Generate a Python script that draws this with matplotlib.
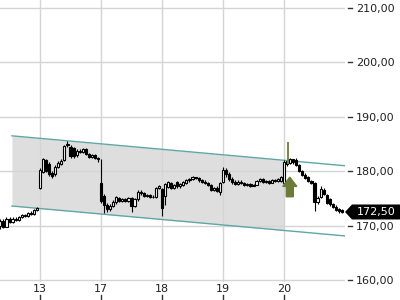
import matplotlib
matplotlib.use("Agg")
import matplotlib.pyplot as plt
import matplotlib.transforms as mtransforms
from matplotlib.patches import Rectangle, Polygon, FancyArrow
import numpy as np

# ---- data ----
opens = [170.0, 170.9, 169.8, 171.2, 170.6, 171.3, 171.0, 171.6, 171.9, 171.7, 172.3, 172.1, 172.8,
         177.0, 179.9, 182.1, 181.3, 179.6, 179.4, 180.7, 181.4, 182.0, 184.8, 184.5, 184.2, 182.9,
         183.8, 183.6, 184.0, 183.1, 182.6, 183.0, 182.5,
         177.8, 175.5, 173.8, 173.0, 173.6, 174.3, 175.1, 174.5, 174.9, 174.6, 175.0, 173.6, 174.8,
         176.2, 175.9, 175.4, 175.6, 175.2, 175.3, 176.9,
         176.8, 175.5, 177.1, 177.9, 177.0, 178.0, 177.2, 177.5, 177.9, 178.3, 178.6, 178.9, 178.7,
         178.4, 178.1, 177.9, 177.4, 176.6, 177.0, 176.2,
         178.0, 180.2, 179.4, 178.6, 178.0, 177.7, 178.1, 177.8, 177.5, 177.7, 177.3, 177.5, 178.2,
         178.6, 178.0, 178.2, 177.9, 178.4, 178.2, 178.2,
         177.9, 181.8, 181.5, 182.2, 182.1, 181.1, 180.1, 179.3, 178.9, 178.2, 177.9, 174.4, 175.2,
         176.6, 175.6, 174.8, 174.0, 173.5, 173.0, 172.8]
closes = [170.9, 169.8, 171.2, 170.6, 171.3, 171.0, 171.6, 171.9, 171.7, 172.3, 172.1, 172.8, 173.2,
          180.2, 182.2, 180.0, 179.4, 179.2, 180.8, 181.5, 181.9, 184.6, 185.0, 182.8, 182.8, 183.8,
          183.6, 184.0, 183.1, 182.6, 183.0, 182.5, 182.2,
          174.5, 173.8, 173.0, 173.6, 174.3, 175.2, 174.5, 174.9, 174.6, 175.0, 173.6, 174.8, 176.2,
          175.9, 175.4, 175.6, 175.2, 175.3, 176.9, 177.2,
          173.3, 177.6, 178.0, 176.9, 177.5, 177.2, 177.6, 178.0, 178.3, 178.6, 178.9, 178.7, 178.3,
          178.1, 177.9, 177.4, 176.6, 176.9, 176.3, 177.9,
          180.3, 179.4, 178.6, 178.0, 177.7, 178.1, 177.8, 177.5, 177.7, 177.3, 177.5, 178.2, 178.6,
          178.0, 178.2, 177.9, 178.4, 178.2, 178.5, 179.0,
          181.6, 181.3, 182.2, 181.6, 181.1, 180.1, 179.3, 178.8, 178.2, 177.8, 174.4, 175.1, 176.7,
          175.8, 174.2, 173.9, 173.4, 172.9, 172.7, 172.5]
highs = [171.2, 171.3, 171.5, 171.6, 171.6, 171.5, 171.8, 172.1, 172.1, 172.5, 172.6, 173.0, 173.5,
         180.6, 182.4, 182.3, 181.6, 180.0, 181.1, 181.8, 182.2, 184.8, 185.6, 184.8, 184.4, 184.0,
         184.0, 184.2, 184.2, 183.3, 183.2, 183.2, 182.7,
         182.2, 175.8, 174.2, 173.9, 174.7, 175.4, 175.3, 175.1, 175.1, 175.2, 175.2, 175.0, 176.5,
         176.6, 176.1, 175.8, 175.8, 175.7, 177.1, 177.5,
         177.0, 177.9, 178.2, 178.1, 177.7, 178.2, 177.8, 178.2, 178.5, 178.8, 179.1, 179.0, 178.9,
         178.6, 178.3, 178.1, 177.6, 177.1, 177.2, 178.1,
         180.7, 180.5, 179.8, 178.9, 178.3, 178.3, 178.3, 178.0, 177.8, 177.9, 177.7, 178.4, 178.8,
         178.8, 178.4, 178.4, 178.6, 178.6, 178.7, 179.2,
         182.0, 182.0, 182.4, 182.3, 182.5, 181.3, 180.3, 179.7, 179.1, 178.4, 178.1, 175.4, 177.3,
         176.9, 175.8, 175.0, 174.2, 173.7, 173.2, 173.0]
lows = [169.4, 169.5, 169.7, 170.4, 170.5, 170.8, 170.9, 171.4, 171.5, 171.6, 171.9, 172.0, 172.6,
        176.8, 179.7, 179.8, 179.2, 178.8, 179.2, 180.5, 181.2, 181.8, 184.5, 182.5, 182.5, 182.7,
        183.4, 183.4, 182.9, 182.4, 182.4, 182.3, 181.6,
        174.2, 172.4, 172.5, 172.7, 173.4, 174.0, 174.3, 174.3, 174.4, 174.4, 172.5, 173.4, 174.6,
        175.7, 175.2, 175.2, 175.0, 175.0, 175.1, 176.7,
        171.7, 173.8, 176.9, 176.7, 176.8, 177.0, 177.0, 177.3, 177.7, 178.1, 178.4, 178.5, 178.1,
        177.9, 177.7, 177.2, 176.4, 176.4, 176.1, 175.6,
        177.8, 178.9, 178.2, 177.6, 177.5, 177.5, 177.6, 177.3, 177.3, 177.1, 177.2, 177.4, 178.0,
        177.8, 177.8, 177.7, 177.8, 178.0, 178.0, 178.0,
        177.6, 180.9, 181.3, 181.4, 180.9, 179.9, 179.1, 178.6, 178.0, 177.6, 172.7, 173.9, 175.0,
        175.6, 174.0, 173.6, 173.2, 172.6, 172.4, 172.3]

day_ticks = [13, 33, 53, 73, 93]
day_labels = ["13", "17", "18", "19", "20"]
y_ticks = [160, 170, 180, 190, 200, 210]
y_labels = ["160,00", "170,00", "180,00", "190,00", "200,00", "210,00"]

channel_x = [3.8, 113.0]
channel_upper = [186.5, 181.0]
channel_lower = [173.6, 168.1]
shade_end = 93

signal_x = 94.9
signal_base = 175.3
signal_tip = 178.9
spike_x = 94.3
spike_low = 181.5
spike_high = 185.2

last_price = 172.5
last_label = "172,50"

# ---- figure ----
fig = plt.figure(figsize=(4, 3), dpi=100)
ax = fig.add_axes([0.0, 0.06, 345 / 400, 0.94])
ax.set_xlim(-0.115, 113.0)
ax.set_ylim(159.63, 211.47)
for s in ax.spines.values():
    s.set_visible(False)

grid_c = "#d4d4d4"
for t in y_ticks:
    ax.axhline(t, color=grid_c, lw=1, zorder=1)
for t in day_ticks:
    ax.axvline(t, color=grid_c, lw=1, zorder=1)

# channel shading and lines
xs = np.array([channel_x[0], shade_end])
up = np.interp(xs, channel_x, channel_upper)
lo = np.interp(xs, channel_x, channel_lower)
ax.fill_between(xs, lo, up, color="#dedede", zorder=0.5, lw=0)
ax.plot(channel_x, channel_upper, color="#5fa7a7", lw=1, zorder=2)
ax.plot(channel_x, channel_lower, color="#5fa7a7", lw=1, zorder=2)

# candles
w = 0.72
for i, (o, h, l, c) in enumerate(zip(opens, highs, lows, closes)):
    ax.plot([i, i], [l, h], color="black", lw=0.8, zorder=3, solid_capstyle="butt")
    bottom = min(o, c)
    height = max(abs(c - o), 0.08)
    face = "white" if c >= o else "black"
    ax.add_patch(Rectangle((i - w / 2, bottom), w, height, facecolor=face,
                           edgecolor="black", lw=0.8, zorder=4))

# signal
ax.plot([spike_x, spike_x], [spike_low, spike_high], color="#76873f", lw=1.4, zorder=5)
ax.add_patch(FancyArrow(signal_x, signal_base, 0, signal_tip - signal_base, width=2.3,
                        head_width=4.6, head_length=1.7, length_includes_head=True,
                        color="#6b7b3a", zorder=6))

# x ticks
ax.set_xticks(day_ticks)
ax.set_xticklabels(day_labels, fontsize=8, color="#222222")
ax.tick_params(axis="x", length=0, pad=1.5)
tx = mtransforms.blended_transform_factory(ax.transData, ax.transAxes)
for t in day_ticks:
    ax.plot([t, t], [-13 / 282, -18 / 282], color="#333333", lw=1, transform=tx, clip_on=False)

# y ticks right
ax.yaxis.tick_right()
ax.set_yticks(y_ticks)
ax.set_yticklabels(y_labels, fontsize=8, color="#222222")
ax.tick_params(axis="y", length=0, pad=8)
ty = mtransforms.blended_transform_factory(ax.transAxes, ax.transData)
for t in y_ticks:
    ax.plot([1 + 3 / 345, 1 + 7 / 345], [t, t], color="#333333", lw=1, transform=ty, clip_on=False)

# last price tag
tf = mtransforms.blended_transform_factory(fig.transFigure, ax.transData)
hh = 7.5 / 5.44
x0 = 345 / 400
x1 = 352 / 400
poly = Polygon([[x0, last_price], [x1, last_price + hh], [1.0, last_price + hh],
                [1.0, last_price - hh], [x1, last_price - hh]], closed=True,
               facecolor="black", edgecolor="none", transform=tf, clip_on=False, zorder=10)
ax.add_patch(poly)
ax.text(376 / 400, last_price, last_label, transform=tf, color="white", fontsize=8,
        ha="center", va="center", zorder=11, clip_on=False)

fig.savefig("out.png", dpi=100)
